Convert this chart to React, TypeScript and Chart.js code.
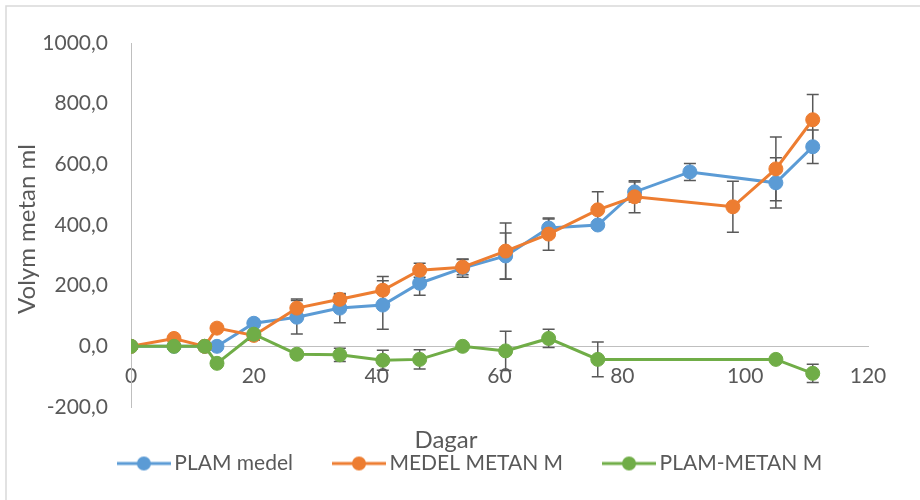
import { useEffect, useRef } from 'react';
import { Chart, registerables } from 'chart.js';
Chart.register(...registerables);

// ---- data ----
const seriesNames = ['PLAM medel', 'MEDEL METAN M', 'PLAM-METAN M'];

const plamDays = [0, 7, 12, 14, 20, 27, 34, 41, 47, 54, 61, 68, 76, 82, 91, 105, 111];
const plamValues = [0, 0, 0, 0, 76, 96, 126, 136, 208, 258, 298, 390, 400, 509, 575, 539, 658];
const plamErrors = [0, 0, 0, 0, 0, 55, 48, 80, 40, 30, 76, 30, 10, 33, 28, 83, 55];

const metanDays = [0, 7, 12, 14, 20, 27, 34, 41, 47, 54, 61, 68, 76, 82, 98, 105, 111];
const metanValues = [0, 26, 0, 60, 36, 126, 155, 185, 251, 261, 314, 370, 450, 493, 460, 585, 747];
const metanErrors = [0, 0, 0, 0, 16, 30, 17, 45, 23, 25, 93, 53, 60, 53, 84, 105, 83];

const diffDays = [0, 7, 12, 14, 20, 27, 34, 41, 47, 54, 61, 68, 76, 105, 111];
const diffValues = [0, 0, 0, -56, 40, -26, -28, -46, -43, 0, -15, 26, -43, -43, -89];
const diffErrors = [0, 0, 0, 0, 0, 8, 22, 33, 32, 0, 65, 30, 57, 0, 30];

const xTicks = { min: 0, max: 120, step: 20 };
const yTicks = { min: -200, max: 1000, step: 200 };
const xTitle = 'Dagar';
const yTitle = 'Volym metan ml';

const colors = ['#5B9BD5', '#ED7D31', '#70AD47'];
const TEXT = '#595959';
const FONT = 'Lato, "Open Sans", sans-serif';

function legendImage(color: string) {
  const c = document.createElement('canvas');
  c.width = 54;
  c.height = 16;
  const g = c.getContext('2d')!;
  g.strokeStyle = color;
  g.lineWidth = 3;
  g.beginPath();
  g.moveTo(0, 8);
  g.lineTo(54, 8);
  g.stroke();
  g.fillStyle = color;
  g.beginPath();
  g.arc(27, 8, 7, 0, Math.PI * 2);
  g.fill();
  return c;
}

export default function App() {
  const ref = useRef<HTMLCanvasElement>(null);

  useEffect(() => {
    if (!ref.current) return;
    const errorSets = [plamErrors, metanErrors, diffErrors];
    const imgs = colors.map(legendImage);

    const errorBars = {
      id: 'errorBars',
      beforeDatasetsDraw(chart: any) {
        const ctx = chart.ctx;
        const ys = chart.scales.y;
        ctx.save();
        ctx.strokeStyle = '#595959';
        ctx.lineWidth = 1.5;
        chart.data.datasets.forEach((ds: any, i: number) => {
          const meta = chart.getDatasetMeta(i);
          const errs = errorSets[i];
          meta.data.forEach((pt: any, j: number) => {
            const e = errs[j];
            if (!e) return;
            const v = ds.data[j].y;
            const x = pt.x;
            const y1 = ys.getPixelForValue(v + e);
            const y2 = ys.getPixelForValue(v - e);
            ctx.beginPath();
            ctx.moveTo(x, y1);
            ctx.lineTo(x, y2);
            ctx.moveTo(x - 6, y1);
            ctx.lineTo(x + 6, y1);
            ctx.moveTo(x - 6, y2);
            ctx.lineTo(x + 6, y2);
            ctx.stroke();
          });
        });
        ctx.restore();
      },
    };

    const frame = {
      id: 'frame',
      beforeDraw(chart: any) {
        const ctx = chart.ctx;
        ctx.save();
        ctx.fillStyle = '#ffffff';
        ctx.fillRect(0, 0, chart.width, chart.height);
        ctx.strokeStyle = '#d9d9d9';
        ctx.lineWidth = 1.5;
        ctx.beginPath();
        ctx.moveTo(6, chart.height);
        ctx.lineTo(6, 6);
        ctx.lineTo(chart.width, 6);
        ctx.stroke();
        ctx.restore();
      },
      afterDraw(chart: any) {
        const ctx = chart.ctx;
        const ca = chart.chartArea;
        ctx.save();
        ctx.fillStyle = TEXT;
        ctx.font = `24px ${FONT}`;
        ctx.textAlign = 'center';
        ctx.textBaseline = 'middle';
        ctx.fillText(xTitle, 446, 440);
        ctx.translate(27, (ca.top + ca.bottom) / 2 + 4);
        ctx.rotate(-Math.PI / 2);
        ctx.fillText(yTitle, 0, 0);
        ctx.restore();
      },
    };

    const mk = (days: number[], vals: number[]) => days.map((x, i) => ({ x, y: vals[i] }));

    const chart = new Chart(ref.current, {
      type: 'line',
      data: {
        datasets: [
          { label: seriesNames[0], data: mk(plamDays, plamValues), order: 2 },
          { label: seriesNames[1], data: mk(metanDays, metanValues), order: 1 },
          { label: seriesNames[2], data: mk(diffDays, diffValues), order: 0 },
        ].map((d, i) => ({
          ...d,
          borderColor: colors[i],
          backgroundColor: colors[i],
          pointBackgroundColor: colors[i],
          pointBorderColor: colors[i],
          borderWidth: 3,
          pointRadius: 7,
          pointBorderWidth: 1,
          pointHoverRadius: 7,
          tension: 0,
          fill: false,
        })),
      },
      options: {
        responsive: false,
        animation: false,
        events: [],
        layout: { padding: { left: 26, right: 0, top: 43, bottom: 16 } },
        scales: {
          x: {
            type: 'linear',
            position: { y: 0 } as any,
            min: xTicks.min,
            max: xTicks.max,
            ticks: { stepSize: xTicks.step, color: TEXT, font: { family: FONT, size: 21 }, padding: 17, maxRotation: 0 },
            grid: { display: false, drawTicks: false },
            border: { display: true, color: '#bfbfbf', width: 1 },
          },
          y: {
            min: yTicks.min,
            max: yTicks.max,
            ticks: {
              stepSize: yTicks.step,
              color: TEXT,
              font: { family: FONT, size: 21 },
              padding: 23,
              callback: (v: any) => Number(v).toFixed(1).replace('.', ','),
            },
            grid: { display: false, drawTicks: false },
            border: { display: true, color: '#bfbfbf', width: 1 },
            afterFit: (s: any) => {
              s.width = 105;
            },
          },
          yPad: {
            type: 'linear',
            position: 'right',
            display: true,
            ticks: { display: false },
            grid: { display: false, drawTicks: false },
            border: { display: false },
            afterFit: (s: any) => {
              s.width = 52;
            },
          },
        },
        plugins: {
          tooltip: { enabled: false },
          legend: {
            position: 'bottom',
            labels: {
              usePointStyle: true,
              pointStyleWidth: 40,
              padding: 46,
              color: TEXT,
              font: { family: FONT, size: 21 },
              generateLabels: (c: any) => {
                const items = (Chart.defaults.plugins.legend.labels as any).generateLabels(c);
                items.forEach((it: any) => {
                  it.pointStyle = imgs[it.datasetIndex];
                });
                return items.sort((a: any, b: any) => a.datasetIndex - b.datasetIndex);
              },
            },
          },
        },
      },
      plugins: [errorBars, frame],
    });
    return () => chart.destroy();
  }, []);

  return (
    <div style={{ position: 'fixed', left: 0, top: 0, width: 920, height: 500, background: '#fff' }}>
      <canvas ref={ref} width={920} height={500} style={{ display: 'block' }} />
    </div>
  );
}
